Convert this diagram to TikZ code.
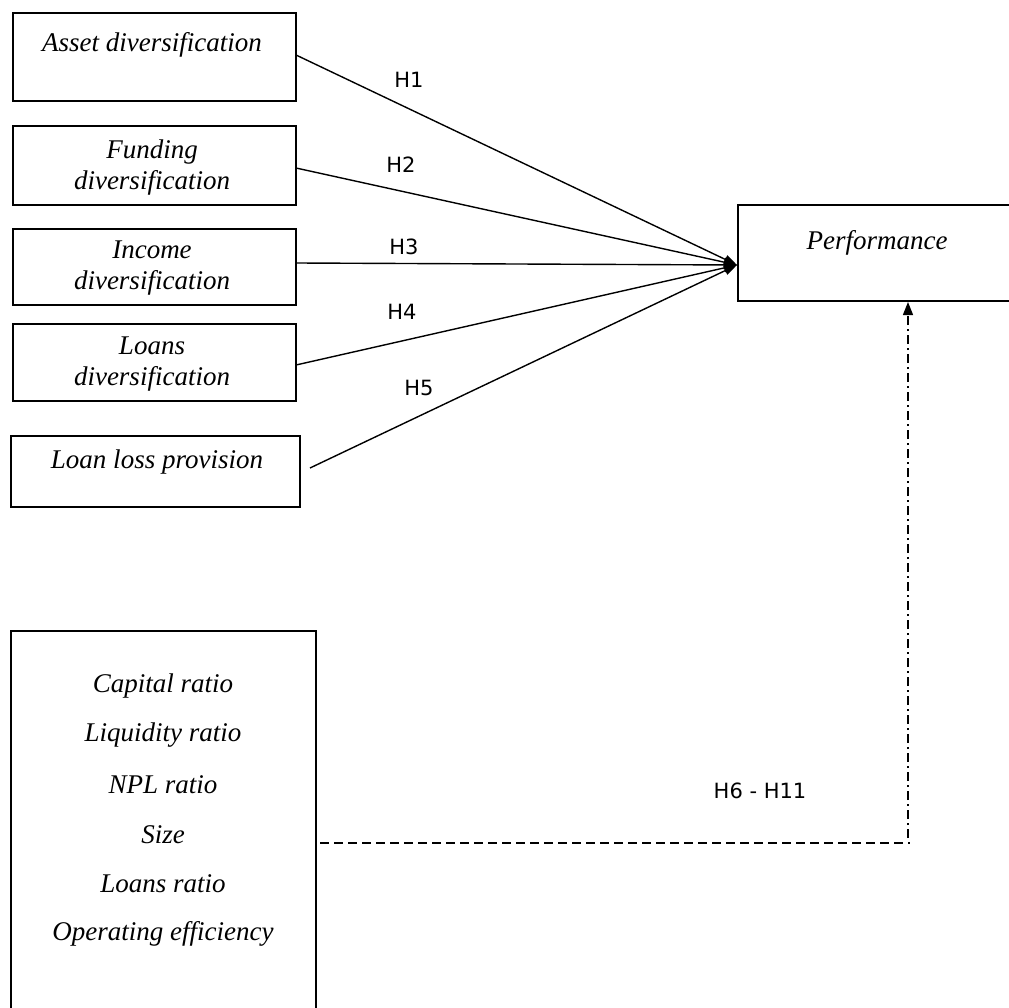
\documentclass[tikz,border=0pt]{standalone}
\usepackage{fontspec}
\setmainfont{Liberation Serif}
\newfontfamily\labfont{DejaVu Sans}
\usetikzlibrary{arrows.meta}
\begin{document}
\begin{tikzpicture}[x=1pt,y=-1pt,
  box/.style={draw,line width=1.3pt,inner sep=0pt},
  vtext/.style={font=\fontsize{27}{31}\selectfont\itshape,align=center,inner sep=0pt},
  hlab/.style={font=\labfont\fontsize{21}{24}\selectfont,inner sep=0pt},
  conn/.style={line width=1.4pt,-{Triangle[length=13pt,width=9pt]}}]
\useasboundingbox (0,0) rectangle (1009,1008);
\clip (0,0) rectangle (1009,1008);
% boxes
\node[box,minimum width=283pt,minimum height=88pt] (b1) at (154.5,57) {};
\node[box,minimum width=283pt,minimum height=79pt] (b2) at (154.5,165.5) {};
\node[box,minimum width=283pt,minimum height=76pt] (b3) at (154.5,267) {};
\node[box,minimum width=283pt,minimum height=77pt] (b4) at (154.5,362.5) {};
\node[box,minimum width=289pt,minimum height=71pt] (b5) at (155.5,471.5) {};
\node[box,minimum width=280pt,minimum height=96pt] (perf) at (878,253) {};
\node[box,minimum width=305pt,minimum height=400pt] (ctrl) at (163.5,831) {};
% texts
\node[vtext] (t1) at (152,45) {Asset diversification};
\node[vtext] (t2) at (152,168) {Funding\\diversification};
\node[vtext] (t3) at (152,268) {Income\\diversification};
\node[vtext] (t4) at (152,364) {Loans\\diversification};
\node[vtext] (t5) at (157,462) {Loan loss provision};
\node[vtext] (tp) at (877,243) {Performance};
\node[vtext] (c1) at (163,686) {Capital ratio};
\node[vtext] (c2) at (163,735) {Liquidity ratio};
\node[vtext] (c3) at (163,785) {NPL ratio};
\node[vtext] (c4) at (163,835) {Size};
\node[vtext] (c5) at (163,884) {Loans ratio};
\node[vtext] (c6) at (163,934) {Operating efficiency};
% connectors
\coordinate (tip) at (737,265);
\coordinate (s1) at (296,55);
\coordinate (s2) at (296,168);
\coordinate (s3) at (296,263);
\coordinate (s4) at (296,365);
\coordinate (s5) at (310,468);
\draw[conn] (s1) -- (tip);
\draw[conn] (s2) -- (tip);
\draw[conn] (s3) -- (tip);
\draw[conn] (s4) -- (tip);
\draw[conn] (s5) -- (tip);
\node[hlab] (h1) at (409,80) {H1};
\node[hlab] (h2) at (401,165) {H2};
\node[hlab] (h3) at (404,247) {H3};
\node[hlab] (h4) at (402,312) {H4};
\node[hlab] (h5) at (419,388) {H5};
% controls
\coordinate (ca) at (320,843);
\coordinate (cb) at (910,843);
\coordinate (cc) at (908,838);
\coordinate (cd) at (908,302);
\draw[line width=1.3pt,dash pattern=on 9pt off 5pt] (ca) -- (cb);
\draw[line width=1.3pt,dash pattern=on 9pt off 4pt on 2pt off 4pt,-{Triangle[length=13pt,width=10pt]}] (cc) -- (cd);
\node[hlab] (h6) at (760,791) {H6 - H11};
\end{tikzpicture}
\end{document}
